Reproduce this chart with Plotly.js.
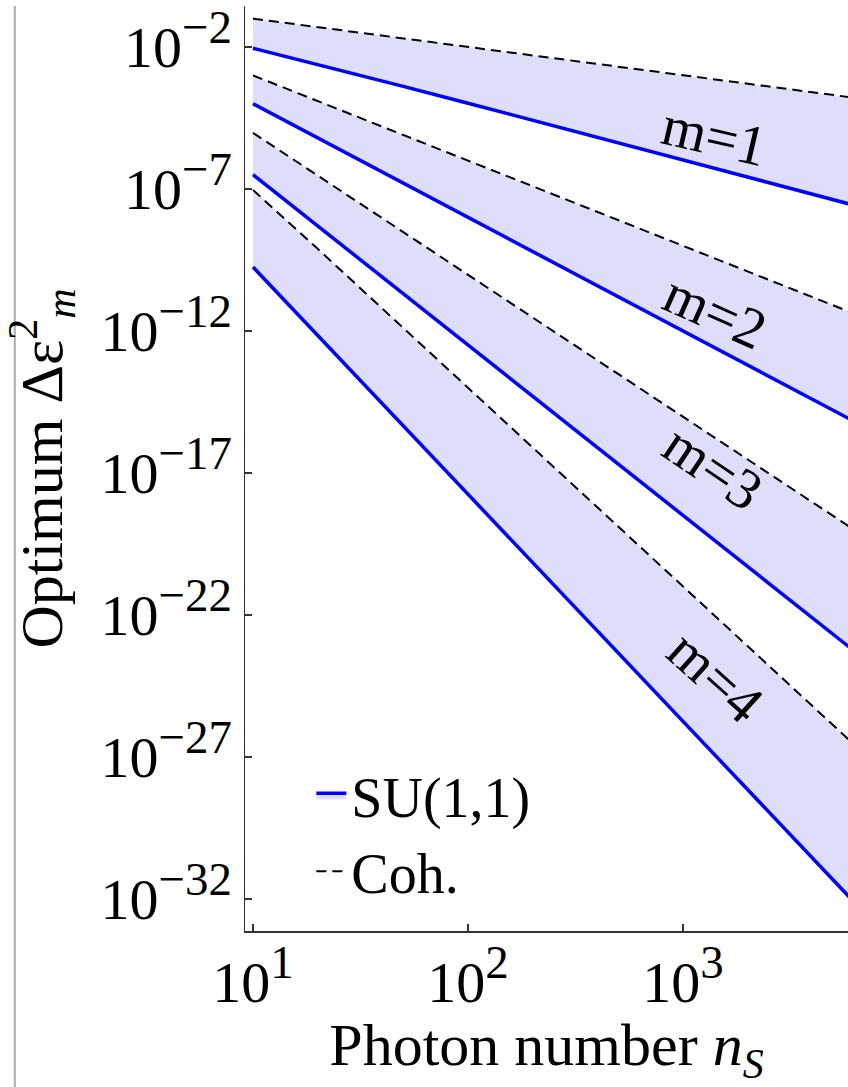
<!DOCTYPE html>
<html>
<head>
<meta charset="utf-8">
<script src="https://cdn.plot.ly/plotly-3.0.1.min.js"></script>
<style>html,body{margin:0;padding:0;background:#fff;}</style>
</head>
<body>
<div id="chart" style="width:848px;height:1087px;"></div>
<script>
// Photon number n_S (sample points)
const nS = [10, 20, 50, 100, 200, 500, 1000, 2000, 6000];

// Coherent-state bounds (dashed)
const coh1 = [1.0e-1, 5.0e-2, 2.0e-2, 1.0e-2, 5.0e-3, 2.0e-3, 1.0e-3, 5.0e-4, 1.7e-4];
const coh2 = [1.0e-3, 1.25e-4, 8.0e-6, 1.0e-6, 1.25e-7, 8.0e-9, 1.0e-9, 1.25e-10, 4.6e-12];
const coh3 = [9.5e-6, 2.97e-7, 3.04e-9, 9.5e-11, 2.97e-12, 3.04e-14, 9.5e-16, 2.97e-17, 1.22e-19];
const coh4 = [9.3e-8, 7.8e-10, 1.28e-12, 1.0e-14, 7.8e-17, 1.28e-19, 1.0e-21, 7.8e-24, 3.6e-27];

// SU(1,1) optimum (solid blue)
const su1 = [9.0e-3, 2.45e-3, 4.1e-4, 1.05e-4, 2.6e-5, 4.2e-6, 1.02e-6, 2.6e-7, 2.9e-8];
const su2 = [1.0e-4, 6.25e-6, 1.6e-7, 1.0e-8, 6.25e-10, 1.6e-11, 1.0e-12, 6.25e-14, 7.7e-16];
const su3 = [3.2e-7, 5.0e-9, 2.05e-11, 3.2e-13, 5.0e-15, 2.05e-17, 3.2e-19, 5.0e-21, 6.85e-24];
const su4 = [1.78e-10, 6.95e-13, 4.6e-16, 1.78e-18, 6.95e-21, 4.6e-24, 1.78e-26, 6.95e-29, 1.06e-32];

const cohSeries = [coh1, coh2, coh3, coh4];
const suSeries = [su1, su2, su3, su4];

// Labels
const bandLabels = ["m=1", "m=2", "m=3", "m=4"];
const bandLabelX = [1400, 1420, 1390, 1420];
const bandLabelY = [7.5e-6, 5.0e-12, 1.6e-17, 6.6e-25];
const bandLabelAngle = [13, 24, 34, 42];
const legendNames = ["SU(1,1)", "Coh."];

const yTickVals = [1e-2, 1e-7, 1e-12, 1e-17, 1e-22, 1e-27, 1e-32];
const yTickExp = ["\u22122", "\u22127", "\u221212", "\u221217", "\u221222", "\u221227", "\u221232"];
const xTickVals = [10, 100, 1000];
const xTickExp = ["1", "2", "3"];

const FONT = "Liberation Serif, Times New Roman, serif";
const fillCol = "rgb(222,222,251)";
const powText = e => "10<sup><span style=\"font-size:47px\">" + e + "</span></sup>";

const traces = [];
for (let i = 0; i < 4; i++) {
  traces.push({
    x: nS, y: cohSeries[i], type: "scatter", mode: "lines",
    line: {color: "black", width: 2, dash: "10px,6px"},
    name: legendNames[1], legendgroup: "coh", showlegend: i === 0, legendrank: 2,
    hoverinfo: "skip"
  });
  traces.push({
    x: nS, y: suSeries[i], type: "scatter", mode: "lines",
    line: {color: "#0000ff", width: 3.5},
    fill: "tonexty", fillcolor: fillCol,
    name: legendNames[0], legendgroup: "su", showlegend: i === 0, legendrank: 1,
    hoverinfo: "skip"
  });
}

const annotations = bandLabels.map((t, i) => ({
  x: Math.log10(bandLabelX[i]), y: Math.log10(bandLabelY[i]),
  xref: "x", yref: "y", text: t, showarrow: false,
  textangle: bandLabelAngle[i],
  font: {family: FONT, size: 57, color: "black"}
}));

const layout = {
  width: 848, height: 1087,
  margin: {l: 245, r: 0, t: 6, b: 156},
  paper_bgcolor: "white", plot_bgcolor: "white",
  font: {family: FONT, color: "black"},
  showlegend: true,
  legend: {
    x: 0.11, y: 0.193, xanchor: "left", yanchor: "top",
    bgcolor: "rgba(0,0,0,0)", borderwidth: 0, tracegroupgap: 0,
    font: {family: FONT, size: 56, color: "black"},
    traceorder: "normal"
  },
  xaxis: {
    type: "log", range: [0.963, 3.767],
    tickmode: "array", tickvals: xTickVals, ticktext: xTickExp.map(powText),
    ticks: "inside", ticklen: 7, tickwidth: 1.2, tickcolor: "#333",
    showline: true, linecolor: "#333", linewidth: 1.5,
    showgrid: false, zeroline: false, mirror: false,
    tickfont: {family: FONT, size: 58, color: "black"},
    title: {text: "\u00a0\u00a0\u00a0\u00a0Photon number <i>n</i><sub><i>S</i></sub>", font: {family: FONT, size: 60, color: "black"}, standoff: 40}
  },
  yaxis: {
    type: "log", range: [-33.13, -0.556],
    tickmode: "array", tickvals: yTickVals, ticktext: yTickExp.map(powText),
    ticks: "inside", ticklen: 7, tickwidth: 1.2, tickcolor: "#333",
    showline: true, linecolor: "#333", linewidth: 1.5,
    showgrid: false, zeroline: false, mirror: false,
    tickfont: {family: FONT, size: 58, color: "black"},
    title: {text: "Optimum \u0394\u03b5<sup>2</sup><sub><i>m</i></sub>", font: {family: FONT, size: 60, color: "black"}, standoff: 26}
  },
  annotations: annotations,
  shapes: [{
    type: "line", xref: "paper", yref: "paper",
    x0: -0.3818, x1: -0.3818, y0: -0.17, y1: 1,
    line: {color: "#aaaaaa", width: 2}
  }]
};

Plotly.newPlot("chart", traces, layout, {staticPlot: true, displayModeBar: false});
</script>
</body>
</html>
